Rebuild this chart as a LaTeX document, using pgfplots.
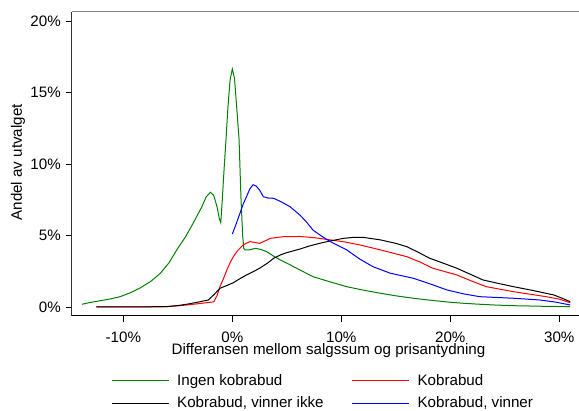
\documentclass[border=0pt]{standalone}
\usepackage{fontspec}
\setmainfont{Liberation Sans}
\usepackage{pgfplots}
\pgfplotsset{compat=1.18}
\definecolor{stgreen}{RGB}{0,128,0}

\begin{document}
\fontsize{15.2}{17.5}\selectfont
\begin{tikzpicture}
\begin{axis}[
    name=ax,
    scale only axis,
    width=507bp, height=303.7bp,
    xmin=-14.71, xmax=31.81,
    ymin=-0.61, ymax=20.63,
    axis x line*=bottom,
    axis y line*=left,
    x axis line style={line width=1.2bp, black},
    y axis line style={line width=1bp, black!80},
    tick align=outside,
    major tick length=6bp,
    every tick/.append style={black, line width=0.8bp},
    xtick={-10,0,10,20,30},
    xticklabels={-10\%,0\%,10\%,20\%,30\%},
    xticklabel style={inner ysep=0bp, yshift=-9.6bp},
    ytick={0,5,10,15,20},
    yticklabels={0\%,5\%,10\%,15\%,20\%},
    xlabel={Differansen mellom salgssum og prisantydning},
    ylabel={Andel av utvalget},
    xlabel style={at={(axis description cs:0.506,-0.1275)}, anchor=base, inner ysep=0bp},
    ylabel style={at={(axis description cs:-0.1065,0.505)}, anchor=center},
    clip=false,
    legend columns=2,
    legend cell align=left,
    legend style={draw=none, at={(axis description cs:0.077,-0.185)}, anchor=north west,
        inner sep=0pt, row sep=5.5bp,
        /tikz/every odd column/.append style={column sep=6bp},
        /tikz/every even column/.append style={column sep=26bp}},
    legend image post style={xscale=3.35},
    every axis plot/.append style={line width=1bp},
]
\addplot[color=stgreen] coordinates {
(-13.8,0.19) (-13.0,0.32) (-12.1,0.44) (-11.2,0.56) (-10.3,0.72) (-9.4,0.98)
(-8.5,1.31) (-7.5,1.78) (-6.6,2.36) (-5.8,3.1) (-5.1,3.99) (-4.3,4.9) (-3.6,5.85)
(-2.8,7.0) (-2.4,7.7) (-2.0,8.02) (-1.7,7.8) (-1.4,7.0) (-1.2,6.2) (-1.06,5.9)
(-0.92,7.5) (-0.75,9.7) (-0.58,11.7) (-0.4,14.0) (-0.2,15.9) (0,16.64) (0.2,16.0)
(0.4,14.0) (0.62,11.7) (0.8,7.5) (0.95,5.0) (1.05,4.1) (1.17,3.99) (1.6,4.0)
(2.1,4.1) (2.6,4.03) (3.15,3.87) (3.8,3.55) (4.4,3.29) (5.3,2.95) (6.2,2.59)
(7.4,2.12) (9.0,1.75) (10.5,1.42) (12.0,1.18) (13.6,0.96) (15.0,0.78) (16.6,0.61)
(18.2,0.47) (19.7,0.35) (21.2,0.26) (22.7,0.19) (24.3,0.13) (25.8,0.09) (28.4,0.05)
(31.0,0.02)};
\addlegendentry{Ingen kobrabud}
\addplot[color=red] coordinates {
(-12.4,0) (-10,0) (-8,0) (-6.0,0.02) (-5.0,0.08) (-4.2,0.14) (-3.0,0.24)
(-2.05,0.33) (-1.7,0.36) (-1.4,0.8) (-1.13,1.42) (-0.8,2.0) (-0.5,2.59) (-0.2,3.1)
(0.1,3.52) (0.5,3.95) (1.0,4.34) (1.6,4.57) (2.0,4.52) (2.5,4.45) (3.0,4.62)
(3.5,4.8) (4.7,4.92) (6.2,4.93) (7.5,4.85) (9.0,4.69) (10.3,4.55) (11.7,4.34)
(13.6,3.99) (16.0,3.52) (17.2,3.15) (18.4,2.71) (20.6,2.24) (22.0,1.8) (23.3,1.42)
(25.8,1.07) (28.8,0.72) (30.0,0.55) (31.0,0.30)};
\addlegendentry{Kobrabud}
\addplot[color=black] coordinates {
(-12.5,0) (-10,0) (-8,0.01) (-6.0,0.03) (-5.0,0.1) (-4.2,0.19) (-3.2,0.33)
(-2.2,0.49) (-1.7,0.85) (-1.13,1.31) (-0.5,1.5) (0.1,1.70) (0.7,1.98) (1.3,2.24)
(2.0,2.5) (2.5,2.71) (3.2,3.05) (3.8,3.41) (4.4,3.64) (5.0,3.80) (6.2,4.05)
(7.0,4.25) (8.0,4.45) (9.0,4.62) (10.2,4.8) (11.0,4.86) (12.0,4.87) (13.6,4.69)
(15.0,4.45) (16.0,4.22) (17.0,3.85) (18.1,3.41) (19.4,3.05) (20.6,2.71) (21.8,2.3)
(23.0,1.89) (24.4,1.65) (25.8,1.42) (27.6,1.15) (29.5,0.84) (30.3,0.6) (31.0,0.37)};
\addlegendentry{Kobrabud, vinner ikke}
\addplot[color=blue] coordinates {
(0,5.1) (0.35,5.8) (0.7,6.55) (1.0,7.2) (1.3,7.71) (1.6,8.25) (1.9,8.55) (2.2,8.45)
(2.5,8.18) (2.85,7.71) (3.3,7.62) (3.8,7.6) (4.5,7.35) (5.3,7.01) (6.2,6.43)
(6.8,5.95) (7.4,5.38) (8.2,4.95) (9.0,4.57) (10.5,3.99) (11.7,3.35) (12.9,2.82)
(14.5,2.36) (16.6,2.01) (18.2,1.6) (19.7,1.19) (21.2,0.92) (22.7,0.72) (25.8,0.61)
(28.2,0.49) (29.6,0.35) (31.0,0.14)};
\addlegendentry{Kobrabud, vinner}
\draw[black!50, line width=1bp] (rel axis cs:0,1) -- (rel axis cs:1,1);
\coordinate (bl) at (rel axis cs:-0.142,-0.3136);
\coordinate (tr) at (rel axis cs:1,1.0395);
\end{axis}
\pgfresetboundingbox
\useasboundingbox (bl) rectangle (tr);
\end{tikzpicture}
\end{document}
